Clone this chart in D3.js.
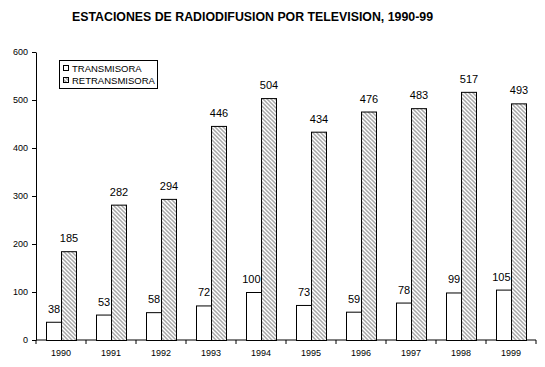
<!DOCTYPE html>
<html><head><meta charset="utf-8">
<script src="https://cdn.jsdelivr.net/npm/d3@7"></script>
<style>body{margin:0;background:#fff}svg{display:block}text{font-family:Arial,"Liberation Sans",sans-serif;fill:#000}</style>
</head><body>
<svg id="c" width="545" height="367"></svg>
<script>
const title = "ESTACIONES DE RADIODIFUSION POR TELEVISION, 1990-99";
const years = ["1990","1991","1992","1993","1994","1995","1996","1997","1998","1999"];
const seriesNames = ["TRANSMISORA","RETRANSMISORA"];
const transmisora = [38,53,58,72,100,73,59,78,99,105];
const retransmisora = [185,282,294,446,504,434,476,483,517,493];
const yTicks = [0,100,200,300,400,500,600];

const svg = d3.select("#c");
const defs = svg.append("defs");
const pat = defs.append("pattern").attr("id","hatch").attr("patternUnits","userSpaceOnUse")
  .attr("width",4).attr("height",4);
pat.append("rect").attr("width",4).attr("height",4).attr("fill","#fff");
pat.append("path").attr("d","M-1,-1 L5,5 M-1,3 L1,5 M3,-1 L5,1").attr("stroke","#a8a8a8").attr("stroke-width",1.5);

const x0 = 36, x1 = 536, yTop = 52, yBot = 340;
const x = d3.scaleBand().domain(years).range([x0,x1]).paddingInner(0).paddingOuter(0);
const xs = d3.scaleBand().domain(seriesNames).range([10, x.bandwidth()-10]).paddingInner(0).paddingOuter(0);
const y = d3.scaleLinear().domain([0,600]).range([yBot,yTop]);

svg.append("text").attr("x",252.5).attr("y",21).attr("text-anchor","middle")
  .attr("font-size",13).attr("font-weight","bold").attr("textLength",361).attr("lengthAdjust","spacingAndGlyphs").text(title);

// y axis
const ya = svg.append("g").attr("transform",`translate(${x0},0)`)
  .call(d3.axisLeft(y).tickValues(yTicks).tickSize(4).tickPadding(4).tickSizeOuter(0));
ya.select(".domain").attr("stroke","#000");
ya.selectAll("text").attr("font-size",9).attr("fill","#000").attr("font-family","Arial, 'Liberation Sans', sans-serif");

// x axis
const xa = svg.append("g").attr("transform",`translate(0,${yBot})`)
  .call(d3.axisBottom(x).tickSize(0).tickPadding(10));
xa.select(".domain").attr("stroke","#000").attr("d",`M${x0},0H${x1}`);
xa.selectAll("text").attr("font-size",9).attr("fill","#000").attr("font-family","Arial, 'Liberation Sans', sans-serif");
const bounds = years.map(d=>x(d)).concat([x1]);
xa.selectAll("line.sep").data(bounds).enter().append("line").attr("class","sep")
  .attr("x1",d=>d).attr("x2",d=>d).attr("y1",0).attr("y2",4).attr("stroke","#000");

const data = [transmisora, retransmisora];
const fills = ["#fff","url(#hatch)"];
const barG = svg.append("g"), labG = svg.append("g");
data.forEach((vals,si)=>{
  barG.append("g").selectAll("rect").data(vals).enter().append("rect")
    .attr("x",(d,i)=>x(years[i])+xs(seriesNames[si])+0.5)
    .attr("y",d=>y(d)+0.5).attr("width",xs.bandwidth())
    .attr("height",d=>y(0)-y(d)).attr("fill",fills[si]).attr("stroke","#000").attr("stroke-width",1);
  const labs = labG.append("g").selectAll("text").data(vals).enter().append("text")
    .attr("x",(d,i)=>x(years[i])+xs(seriesNames[si])+xs.bandwidth()/2+0.5)
    .attr("y",d=>y(d)-9).attr("text-anchor","middle").attr("font-size",11).attr("fill","#000").text(d=>d);
  if (si===0) {
    // keep first-series labels clear of the neighbouring hatched bar
    labs.each(function(d,i){
      const w = this.getComputedTextLength();
      const limit = x(years[i])+xs(seriesNames[1]) - w/2 - 0.5;
      const cx = +d3.select(this).attr("x");
      if (cx > limit) d3.select(this).attr("x", limit);
    });
  }
});

// legend
const lg = svg.append("g");
lg.append("rect").attr("x",59.5).attr("y",60.5).attr("width",98).attr("height",28).attr("fill","#fff").attr("stroke","#000");
seriesNames.forEach((n,i)=>{
  lg.append("rect").attr("x",63.5).attr("y",65.5+i*12).attr("width",5).attr("height",5).attr("fill",fills[i]).attr("stroke","#000");
  lg.append("text").attr("x",72).attr("y",71.5+i*12).attr("font-size",9.5).attr("fill","#000").text(n);
});
</script>
</body></html>
